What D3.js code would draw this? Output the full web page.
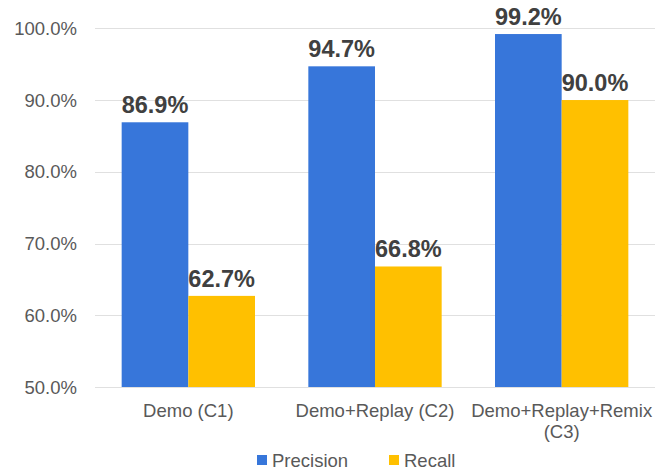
<!DOCTYPE html>
<meta charset="utf-8">
<html>
<head>
<style>
    body { margin: 0; background: #fff; }
    svg text { font-family: "Liberation Sans", Arial, sans-serif; }
    .grid line { stroke: #e0e0e0; stroke-width: 1; }
    .tick-label { fill: #595959; font-size: 18.5px; }
    .value-label { fill: #404040; font-size: 23.5px; font-weight: bold; }
</style>
</head>
<body>
<svg width="667" height="473"></svg>
<script src="https://d3js.org/d3.v7.min.js"></script>
<script>

    var categories = [["Demo (C1)"], ["Demo+Replay (C2)"], ["Demo+Replay+Remix", "(C3)"]];
    var seriesNames = ["Precision", "Recall"];
    var precision = [0.869, 0.947, 0.992];
    var recall = [0.627, 0.668, 0.900];
    var yTicks = [0.5, 0.6, 0.7, 0.8, 0.9, 1.0];
    var colors = ["#3776DA", "#FFC000"];

    var svg = d3.select("svg");

    // plot box (window.top is taken, hence the names)
    var plotLeft = 95, plotRight = 655, plotTop = 28.3, plotBottom = 387;

    var x = d3.scaleBand()
        .domain(d3.range(categories.length))
        .range([plotLeft, plotRight])
        .paddingInner(0.2857)
        .paddingOuter(0.14285);

    var x1 = d3.scaleBand()
        .domain(d3.range(seriesNames.length))
        .range([0, x.bandwidth()]);

    var y = d3.scaleLinear()
        .domain([0.5, 1.0])
        .range([plotBottom, plotTop]);

    // gridlines
    svg.append("g")
        .attr("class", "grid")
        .selectAll("line")
        .data(yTicks)
        .enter().append("line")
        .attr("x1", plotLeft)
        .attr("x2", plotRight)
        .attr("y1", d => Math.round(y(d)) + 0.5)
        .attr("y2", d => Math.round(y(d)) + 0.5);

    // y labels
    svg.append("g")
        .selectAll("text")
        .data(yTicks)
        .enter().append("text")
        .attr("class", "tick-label")
        .attr("x", 77)
        .attr("y", d => y(d))
        .attr("dy", "0.36em")
        .attr("text-anchor", "end")
        .text(d => d3.format(".1%")(d));

    var data = categories.map((c, i) => ({ i: i, values: [precision[i], recall[i]] }));

    var groups = svg.append("g")
        .selectAll("g")
        .data(data)
        .enter().append("g")
        .attr("transform", d => "translate(" + x(d.i) + ",0)");

    groups.selectAll("rect")
        .data(d => d.values.map((v, j) => ({ j: j, v: v })))
        .enter().append("rect")
        .attr("x", d => x1(d.j))
        .attr("width", x1.bandwidth())
        .attr("y", d => y(d.v))
        .attr("height", d => y(0.5) - y(d.v))
        .attr("fill", d => colors[d.j]);

    groups.selectAll("text.value-label")
        .data(d => d.values.map((v, j) => ({ j: j, v: v })))
        .enter().append("text")
        .attr("class", "value-label")
        .attr("x", d => x1(d.j) + x1.bandwidth() / 2)
        .attr("y", d => y(d.v) - 9)
        .attr("text-anchor", "middle")
        .text(d => d3.format(".1%")(d.v));

    // category labels
    var cat = svg.append("g")
        .selectAll("text")
        .data(categories)
        .enter().append("text")
        .attr("class", "tick-label")
        .attr("text-anchor", "middle")
        .attr("x", (d, i) => x(i) + x.bandwidth() / 2)
        .attr("y", 416.5);

    cat.selectAll("tspan")
        .data(d => d)
        .enter().append("tspan")
        .attr("x", function() { return this.parentNode.getAttribute("x"); })
        .attr("dy", (d, k) => k === 0 ? 0 : 21)
        .text(d => d);

    // legend
    var legendX = [257, 389];
    var legend = svg.append("g")
        .selectAll("g")
        .data(seriesNames)
        .enter().append("g")
        .attr("transform", (d, i) => "translate(" + legendX[i] + ",455)");

    legend.append("rect")
        .attr("width", 10)
        .attr("height", 10)
        .attr("fill", (d, i) => colors[i]);

    legend.append("text")
        .attr("class", "tick-label")
        .attr("x", 15)
        .attr("y", 11.5)
        .text(d => d);

</script>
</body>
</html>
